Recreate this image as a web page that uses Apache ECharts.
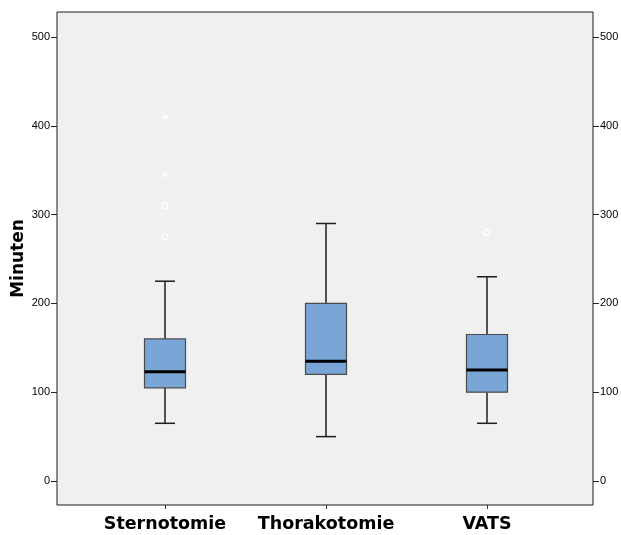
<!DOCTYPE html>
<html>
<head>
<meta charset="utf-8">
<script src="https://cdn.jsdelivr.net/npm/echarts@6/dist/echarts.min.js"></script>
<style>
html,body{margin:0;padding:0;background:#fff;}
#chart{width:621px;height:535px;}
</style>
</head>
<body>
<div id="chart"></div>
<script>
const categories = ['Sternotomie', 'Thorakotomie', 'VATS'];
const lowerWhisker = [65, 50, 65];
const q1 = [105, 120, 100];
const median = [123, 135, 125];
const q3 = [160, 200, 165];
const upperWhisker = [225, 290, 230];
const outlierCircles = [[0, 310], [0, 275], [2, 280]];
const outlierStars = [[0, 410], [0, 345]];

const boxData = categories.map((c, i) => [i, lowerWhisker[i], q1[i], median[i], q3[i], upperWhisker[i]]);
const outlierData = outlierCircles.map(d => [d[0], d[1], 0]).concat(outlierStars.map(d => [d[0], d[1], 1]));

const chart = echarts.init(document.getElementById('chart'), null, {renderer: 'canvas'});
const FONT = 'Liberation Sans, Arial, sans-serif';
const BOLD_FONT = 'DejaVu Sans, sans-serif';

const option = {
  animation: false,
  backgroundColor: '#ffffff',
  grid: [
    {left: 57, top: 12, width: 536, height: 493, containLabel: false, outerBoundsMode: 'none', show: true, backgroundColor: '#f0f0f0', borderColor: '#1a1a1a', borderWidth: 1},
    {left: 57, top: 37, width: 536, height: 444, containLabel: false, outerBoundsMode: 'none'},
    {left: 84.5, top: 37, width: 483, height: 468, containLabel: false, outerBoundsMode: 'none'}
  ],
  xAxis: [
    {gridIndex: 0, type: 'value', show: false, min: 0, max: 1},
    {gridIndex: 1, type: 'value', show: false, min: 0, max: 1},
    {gridIndex: 2, type: 'category', data: categories, position: 'bottom',
      axisLine: {show: false, onZero: false},
      axisTick: {show: true, alignWithLabel: true, length: 4, inside: false, interval: 0, lineStyle: {color: '#333', width: 1}},
      axisLabel: {margin: 10, interval: 0, fontSize: 17.5, fontWeight: 'bold', color: '#000', fontFamily: BOLD_FONT},
      splitLine: {show: false}}
  ],
  yAxis: [
    {gridIndex: 0, type: 'value', show: true, position: 'left', min: 0, max: 1,
      name: 'Minuten', nameLocation: 'middle', nameGap: 30, nameMoveOverlap: false,
      nameTextStyle: {fontSize: 17, fontWeight: 'bold', color: '#000', fontFamily: BOLD_FONT},
      axisLine: {show: false, onZero: false},
      axisTick: {show: false},
      axisLabel: {show: false},
      splitLine: {show: false}},
    {gridIndex: 1, type: 'value', position: 'left', min: 0, max: 500, interval: 100,
      axisLine: {show: false, onZero: false},
      axisTick: {show: true, inside: false, length: 6, lineStyle: {color: '#222', width: 1}},
      axisLabel: {margin: 7, fontSize: 11, color: '#000', fontFamily: FONT},
      splitLine: {show: false}},
    {gridIndex: 1, type: 'value', position: 'right', min: 0, max: 500, interval: 100,
      axisLine: {show: false, onZero: false},
      axisTick: {show: true, inside: false, length: 6, lineStyle: {color: '#222', width: 1}},
      axisLabel: {margin: 7, fontSize: 11, color: '#000', fontFamily: FONT},
      splitLine: {show: false}},
    {gridIndex: 2, type: 'value', show: false, min: -27, max: 500}
  ],
  series: [
    {
      type: 'custom',
      xAxisIndex: 2, yAxisIndex: 3,
      clip: false,
      data: boxData,
      renderItem: function (params, api) {
        const idx = api.value(0);
        const cx = api.coord([idx, 0])[0];
        const y = v => api.coord([idx, v])[1];
        const boxW = 41, capW = 20;
        const yLow = y(api.value(1)), yQ1 = y(api.value(2)), yMed = y(api.value(3)), yQ3 = y(api.value(4)), yHigh = y(api.value(5));
        const lineStyle = {stroke: '#1e1e1e', lineWidth: 1.5};
        return {
          type: 'group',
          children: [
            {type: 'line', shape: {x1: cx, y1: yQ3, x2: cx, y2: yHigh}, style: lineStyle},
            {type: 'line', shape: {x1: cx, y1: yLow, x2: cx, y2: yQ1}, style: lineStyle},
            {type: 'line', shape: {x1: cx - capW / 2, y1: yHigh, x2: cx + capW / 2, y2: yHigh}, style: lineStyle},
            {type: 'line', shape: {x1: cx - capW / 2, y1: yLow, x2: cx + capW / 2, y2: yLow}, style: lineStyle},
            {type: 'rect', shape: {x: cx - boxW / 2, y: yQ3, width: boxW, height: yQ1 - yQ3},
              style: {fill: '#79a6d6', stroke: '#4a4a4a', lineWidth: 1.2}},
            {type: 'line', shape: {x1: cx - boxW / 2, y1: yMed, x2: cx + boxW / 2, y2: yMed}, style: {stroke: '#000', lineWidth: 3}}
          ]
        };
      }
    },
    {
      type: 'custom',
      xAxisIndex: 2, yAxisIndex: 3,
      clip: false,
      data: outlierData,
      renderItem: function (params, api) {
        const p = api.coord([api.value(0), api.value(1)]);
        const kind = api.value(2);
        if (kind === 0) {
          return {type: 'circle', shape: {cx: p[0], cy: p[1], r: 3}, style: {fill: 'none', stroke: '#ffffff', lineWidth: 1.2}};
        }
        const r = 3;
        const st = {stroke: '#ffffff', lineWidth: 1.2};
        return {
          type: 'group',
          children: [
            {type: 'line', shape: {x1: p[0] - r, y1: p[1], x2: p[0] + r, y2: p[1]}, style: st},
            {type: 'line', shape: {x1: p[0] - r * 0.6, y1: p[1] - r * 0.8, x2: p[0] + r * 0.6, y2: p[1] + r * 0.8}, style: st},
            {type: 'line', shape: {x1: p[0] - r * 0.6, y1: p[1] + r * 0.8, x2: p[0] + r * 0.6, y2: p[1] - r * 0.8}, style: st}
          ]
        };
      }
    }
  ]
};
chart.setOption(option);
</script>
</body>
</html>
